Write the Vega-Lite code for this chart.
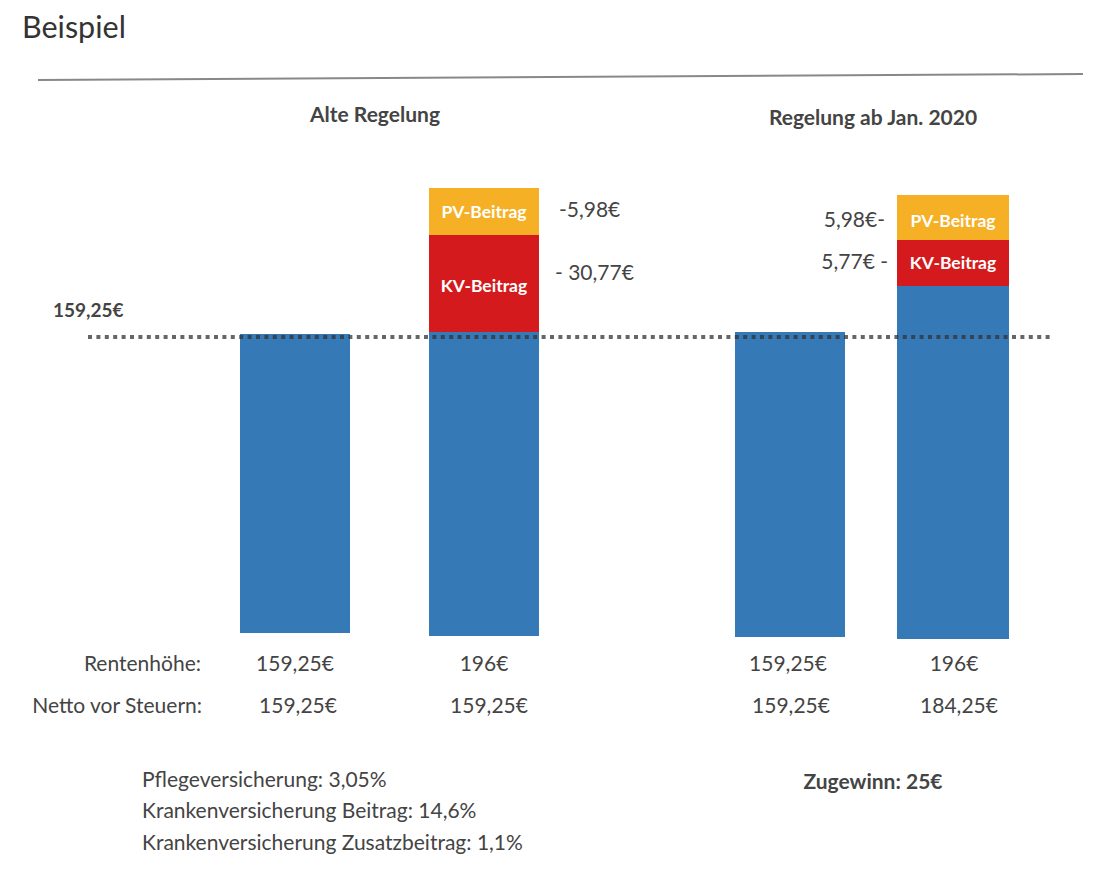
{
  "$schema": "https://vega.github.io/schema/vega-lite/v6.json",
  "width": 1106,
  "height": 872,
  "autosize": {"type": "fit", "contains": "padding"},
  "padding": 0,
  "background": "white",
  "config": {"view": {"stroke": null}, "text": {"font": "Lato", "color": "#444444", "baseline": "alphabetic"}},
  "datasets": {
    "bars": [
      {"bar": "Alt Rente", "part": "Netto", "start": 240, "end": 350, "low": 3, "high": 302},
      {"bar": "Alt 196", "part": "Netto", "start": 429, "end": 539, "low": 0, "high": 304},
      {"bar": "Alt 196", "part": "KV", "start": 429, "end": 539, "low": 304, "high": 401},
      {"bar": "Alt 196", "part": "PV", "start": 429, "end": 539, "low": 401, "high": 448},
      {"bar": "Neu Rente", "part": "Netto", "start": 735, "end": 845, "low": -1, "high": 304},
      {"bar": "Neu 196", "part": "Netto", "start": 897, "end": 1009, "low": -3, "high": 350},
      {"bar": "Neu 196", "part": "KV", "start": 897, "end": 1009, "low": 350, "high": 396},
      {"bar": "Neu 196", "part": "PV", "start": 897, "end": 1009, "low": 396, "high": 441}
    ],
    "texts": [
      {"role": "heading", "label": "Beispiel", "pos": 22, "level": 598},
      {"role": "section", "label": "Alte Regelung", "pos": 375, "level": 514},
      {"role": "section", "label": "Regelung ab Jan. 2020", "pos": 873, "level": 511},
      {"role": "reflabel", "label": "159,25€", "pos": 53, "level": 319},
      {"role": "inbar", "label": "PV-Beitrag", "pos": 484, "level": 418},
      {"role": "inbar", "label": "KV-Beitrag", "pos": 484, "level": 344},
      {"role": "inbar", "label": "PV-Beitrag", "pos": 953, "level": 409},
      {"role": "inbar", "label": "KV-Beitrag", "pos": 953, "level": 367},
      {"role": "deductleft", "label": "-5,98€", "pos": 559, "level": 419},
      {"role": "deductleft", "label": "- 30,77€", "pos": 555, "level": 356},
      {"role": "deductright", "label": "5,98€-", "pos": 885, "level": 409},
      {"role": "deductright", "label": "5,77€ -", "pos": 888, "level": 367},
      {"role": "rowlabel", "label": "Rentenhöhe:", "pos": 201, "level": -35},
      {"role": "rowlabel", "label": "Netto vor Steuern:", "pos": 202, "level": -77},
      {"role": "value", "label": "159,25€", "pos": 295, "level": -35},
      {"role": "value", "label": "196€", "pos": 484, "level": -35},
      {"role": "value", "label": "159,25€", "pos": 788, "level": -35},
      {"role": "value", "label": "196€", "pos": 954, "level": -35},
      {"role": "value", "label": "159,25€", "pos": 298, "level": -77},
      {"role": "value", "label": "159,25€", "pos": 489, "level": -77},
      {"role": "value", "label": "159,25€", "pos": 791, "level": -77},
      {"role": "value", "label": "184,25€", "pos": 959, "level": -77},
      {"role": "note", "label": "Pflegeversicherung: 3,05%", "pos": 142, "level": -151},
      {"role": "note", "label": "Krankenversicherung Beitrag: 14,6%", "pos": 142, "level": -182},
      {"role": "note", "label": "Krankenversicherung Zusatzbeitrag: 1,1%", "pos": 142, "level": -214},
      {"role": "gain", "label": "Zugewinn: 25€", "pos": 873, "level": -153}
    ],
    "rules": [
      {"rule": "divider", "pos": 38, "pos2": 1083, "level": 556, "level2": 562},
      {"rule": "reference", "pos": 88, "pos2": 1053, "level": 299, "level2": 299}
    ]
  },
  "encoding": {
    "x": {"field": "pos", "type": "quantitative", "scale": {"domain": [0, 1106], "nice": false, "zero": false}, "axis": null},
    "y": {"field": "level", "type": "quantitative", "scale": {"domain": [-236, 636], "nice": false, "zero": false}, "axis": null}
  },
  "layer": [
    {
      "data": {"name": "bars"},
      "mark": {"type": "rect"},
      "encoding": {
        "x": {"field": "start", "type": "quantitative", "scale": {"domain": [0, 1106], "nice": false, "zero": false}, "axis": null},
        "x2": {"field": "end"},
        "y": {"field": "low", "type": "quantitative", "scale": {"domain": [-236, 636], "nice": false, "zero": false}, "axis": null},
        "y2": {"field": "high"},
        "color": {"field": "part", "type": "nominal", "scale": {"domain": ["Netto", "KV", "PV"], "range": ["#3579b6", "#d41a1c", "#f5b025"]}, "legend": null}
      }
    },
    {
      "data": {"name": "rules"},
      "transform": [{"filter": "datum.rule === 'divider'"}],
      "mark": {"type": "rule", "color": "#888888", "strokeWidth": 2},
      "encoding": {"x2": {"field": "pos2"}, "y2": {"field": "level2"}}
    },
    {
      "data": {"name": "rules"},
      "transform": [{"filter": "datum.rule === 'reference'"}],
      "mark": {"type": "rule", "color": "#333333", "opacity": 0.75, "strokeWidth": 4, "strokeDash": [4, 4.4]},
      "encoding": {"x2": {"field": "pos2"}}
    },
    {
      "data": {"name": "texts"},
      "transform": [{"filter": "datum.role === 'heading'"}],
      "mark": {"type": "text", "align": "left", "fontSize": 30.5, "color": "#333333"},
      "encoding": {"text": {"field": "label"}}
    },
    {
      "data": {"name": "texts"},
      "transform": [{"filter": "datum.role === 'section'"}],
      "mark": {"type": "text", "align": "center", "fontSize": 21, "fontWeight": "bold"},
      "encoding": {"text": {"field": "label"}}
    },
    {
      "data": {"name": "texts"},
      "transform": [{"filter": "datum.role === 'reflabel'"}],
      "mark": {"type": "text", "align": "left", "fontSize": 19, "fontWeight": "bold"},
      "encoding": {"text": {"field": "label"}}
    },
    {
      "data": {"name": "texts"},
      "transform": [{"filter": "datum.role === 'inbar'"}],
      "mark": {"type": "text", "align": "center", "fontSize": 17.5, "fontWeight": "bold", "color": "white"},
      "encoding": {"text": {"field": "label"}}
    },
    {
      "data": {"name": "texts"},
      "transform": [{"filter": "datum.role === 'deductleft'"}],
      "mark": {"type": "text", "align": "left", "fontSize": 21},
      "encoding": {"text": {"field": "label"}}
    },
    {
      "data": {"name": "texts"},
      "transform": [{"filter": "datum.role === 'deductright' || datum.role === 'rowlabel'"}],
      "mark": {"type": "text", "align": "right", "fontSize": 21},
      "encoding": {"text": {"field": "label"}}
    },
    {
      "data": {"name": "texts"},
      "transform": [{"filter": "datum.role === 'value'"}],
      "mark": {"type": "text", "align": "center", "fontSize": 21},
      "encoding": {"text": {"field": "label"}}
    },
    {
      "data": {"name": "texts"},
      "transform": [{"filter": "datum.role === 'note'"}],
      "mark": {"type": "text", "align": "left", "fontSize": 21},
      "encoding": {"text": {"field": "label"}}
    },
    {
      "data": {"name": "texts"},
      "transform": [{"filter": "datum.role === 'gain'"}],
      "mark": {"type": "text", "align": "center", "fontSize": 21, "fontWeight": "bold"},
      "encoding": {"text": {"field": "label"}}
    }
  ]
}
